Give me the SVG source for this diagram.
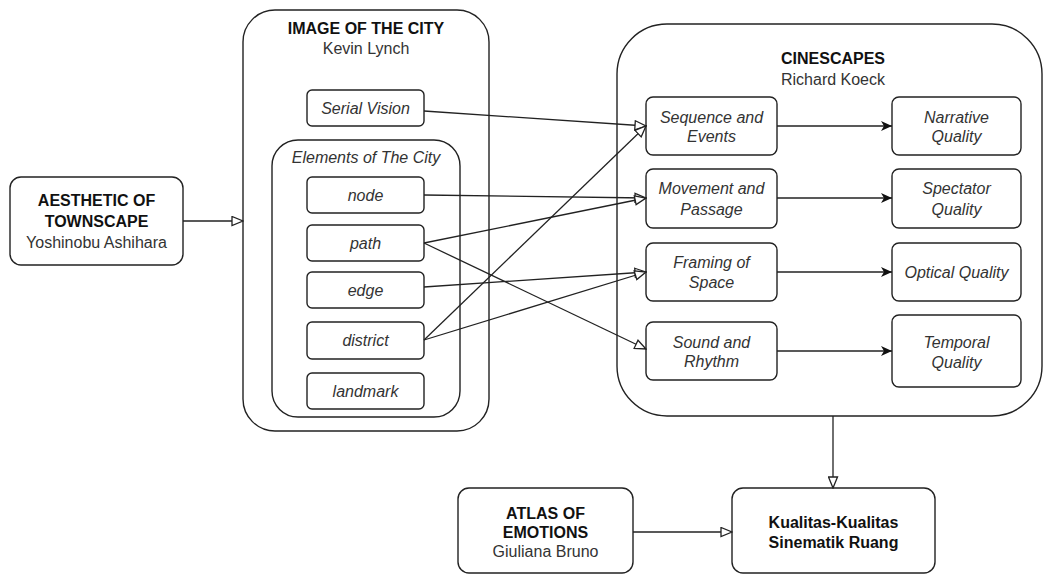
<svg xmlns="http://www.w3.org/2000/svg" width="1046" height="574" viewBox="0 0 1046 574">
<style>
.box{fill:#fff;stroke:#222;stroke-width:1.4}
.cont{fill:none;stroke:#222;stroke-width:1.4}
.b{font-family:"Liberation Sans",Arial,sans-serif;font-size:16px;font-weight:bold;fill:#111;text-anchor:middle}
.r{font-family:"Liberation Sans",Arial,sans-serif;font-size:16px;fill:#333;text-anchor:middle}
.i{font-family:"Liberation Sans",Arial,sans-serif;font-size:16px;font-style:italic;fill:#333;text-anchor:middle}
.c{fill:none;stroke:#222;stroke-width:1.3}
</style>
<defs>
<marker id="open" markerUnits="userSpaceOnUse" viewBox="-1 -1 13 11" markerWidth="13" markerHeight="11" refX="11" refY="4.5" orient="auto">
<path d="M0,0 L11,4.5 L0,9 Z" fill="#fff" stroke="#222" stroke-width="1.3"/>
</marker>
<marker id="fill" markerUnits="userSpaceOnUse" viewBox="0 0 11 10" markerWidth="11" markerHeight="10" refX="11" refY="5" orient="auto">
<path d="M0,0 L11,5 L0,10 L3,5 Z" fill="#111"/>
</marker>
</defs>

<g id="aesthetic">
<rect class="box" x="10" y="177" width="173" height="88" rx="11"/>
<text class="b" x="96.5" y="206">AESTHETIC OF</text>
<text class="b" x="96.5" y="227">TOWNSCAPE</text>
<text class="r" x="96.5" y="248">Yoshinobu Ashihara</text>
</g>

<g id="image-of-the-city">
<rect class="cont" x="243" y="10" width="246" height="421" rx="32"/>
<text class="b" x="366" y="34">IMAGE OF THE CITY</text>
<text class="r" x="366" y="54">Kevin Lynch</text>
</g>

<g id="serial-vision">
<rect class="box" x="307" y="90" width="117" height="36" rx="5"/>
<text class="i" x="365.5" y="114">Serial Vision</text>
</g>

<g id="elements">
<rect class="cont" x="272" y="140" width="188" height="277" rx="26"/>
<text class="i" x="366" y="163">Elements of The City</text>
</g>

<g id="node">
<rect class="box" x="307" y="177" width="117" height="36" rx="5"/>
<text class="i" x="365.5" y="201">node</text>
</g>
<g id="path">
<rect class="box" x="307" y="225" width="117" height="36" rx="5"/>
<text class="i" x="365.5" y="249">path</text>
</g>
<g id="edge">
<rect class="box" x="307" y="272" width="117" height="36" rx="5"/>
<text class="i" x="365.5" y="296">edge</text>
</g>
<g id="district">
<rect class="box" x="307" y="322" width="117" height="37" rx="5"/>
<text class="i" x="365.5" y="346">district</text>
</g>
<g id="landmark">
<rect class="box" x="307" y="373" width="117" height="36" rx="5"/>
<text class="i" x="365.5" y="397">landmark</text>
</g>

<g id="cinescapes">
<rect class="cont" x="617" y="24" width="425" height="392" rx="50"/>
<text class="b" x="833" y="64">CINESCAPES</text>
<text class="r" x="833" y="85">Richard Koeck</text>
</g>

<g id="sequence">
<rect class="box" x="646" y="97" width="131" height="58" rx="7"/>
<text class="i" x="711.5" y="123">Sequence and</text>
<text class="i" x="711.5" y="142">Events</text>
</g>
<g id="movement">
<rect class="box" x="646" y="169" width="131" height="59" rx="7"/>
<text class="i" x="711.5" y="194">Movement and</text>
<text class="i" x="711.5" y="215">Passage</text>
</g>
<g id="framing">
<rect class="box" x="646" y="243" width="131" height="58" rx="7"/>
<text class="i" x="711.5" y="268">Framing of</text>
<text class="i" x="711.5" y="288">Space</text>
</g>
<g id="sound">
<rect class="box" x="646" y="322" width="131" height="58" rx="7"/>
<text class="i" x="711.5" y="348">Sound and</text>
<text class="i" x="711.5" y="367">Rhythm</text>
</g>

<g id="narrative">
<rect class="box" x="892" y="97" width="129" height="58" rx="7"/>
<text class="i" x="956.5" y="123">Narrative</text>
<text class="i" x="956.5" y="142">Quality</text>
</g>
<g id="spectator">
<rect class="box" x="892" y="169" width="129" height="59" rx="7"/>
<text class="i" x="956.5" y="194">Spectator</text>
<text class="i" x="956.5" y="215">Quality</text>
</g>
<g id="optical">
<rect class="box" x="892" y="243" width="129" height="58" rx="7"/>
<text class="i" x="956.5" y="278">Optical Quality</text>
</g>
<g id="temporal">
<rect class="box" x="892" y="315" width="129" height="72" rx="7"/>
<text class="i" x="956.5" y="348">Temporal</text>
<text class="i" x="956.5" y="368">Quality</text>
</g>

<g id="atlas">
<rect class="box" x="458" y="488" width="175" height="85" rx="11"/>
<text class="b" x="545.5" y="519">ATLAS OF</text>
<text class="b" x="545.5" y="538">EMOTIONS</text>
<text class="r" x="545.5" y="557">Giuliana Bruno</text>
</g>

<g id="kualitas">
<rect class="box" x="732" y="488" width="203" height="85" rx="11"/>
<text class="b" x="833.5" y="528">Kualitas-Kualitas</text>
<text class="b" x="833.5" y="548">Sinematik Ruang</text>
</g>

<g id="connectors">
<line class="c" x1="183" y1="221" x2="243" y2="221" marker-end="url(#open)"/>
<line class="c" x1="424" y1="111" x2="646" y2="126" marker-end="url(#open)"/>
<line class="c" x1="424" y1="195" x2="646" y2="198" marker-end="url(#open)"/>
<line class="c" x1="424" y1="243" x2="646" y2="198" marker-end="url(#open)"/>
<line class="c" x1="424" y1="243" x2="646" y2="349" marker-end="url(#open)"/>
<line class="c" x1="424" y1="287" x2="646" y2="272" marker-end="url(#open)"/>
<line class="c" x1="424" y1="340" x2="646" y2="126" marker-end="url(#open)"/>
<line class="c" x1="424" y1="340" x2="646" y2="272" marker-end="url(#open)"/>
<line class="c" x1="777" y1="126" x2="892" y2="126" marker-end="url(#fill)"/>
<line class="c" x1="777" y1="198" x2="892" y2="198" marker-end="url(#fill)"/>
<line class="c" x1="777" y1="272" x2="892" y2="272" marker-end="url(#fill)"/>
<line class="c" x1="777" y1="351" x2="892" y2="351" marker-end="url(#fill)"/>
<line class="c" x1="833" y1="416" x2="833" y2="488" marker-end="url(#open)"/>
<line class="c" x1="633" y1="532" x2="732" y2="532" marker-end="url(#open)"/>
</g>
</svg>
